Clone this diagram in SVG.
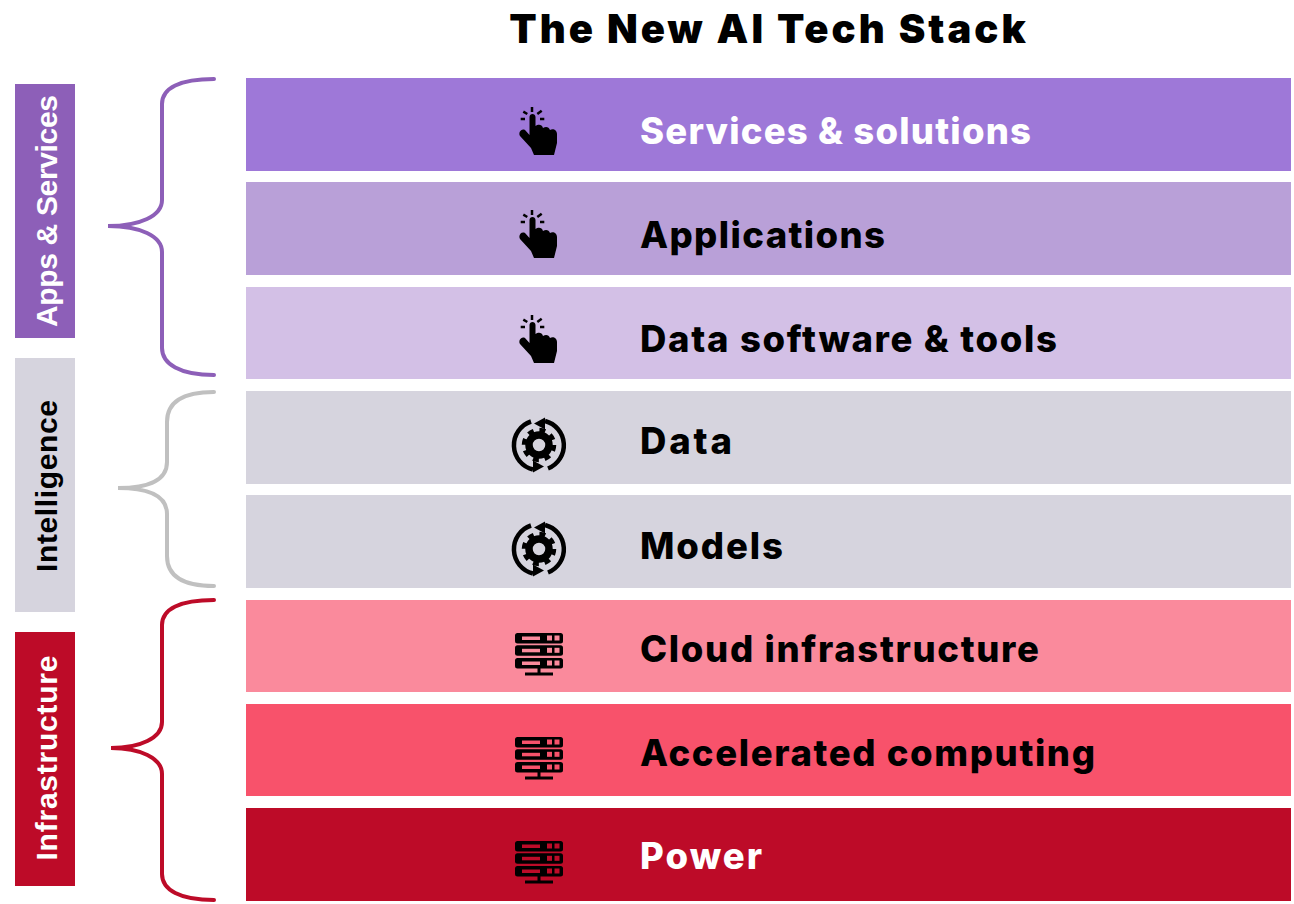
<svg xmlns="http://www.w3.org/2000/svg" width="1294" height="904" viewBox="0 0 1294 904">
<style>
text{font-family:"Inter","Liberation Sans",sans-serif;font-weight:700}
.t{font-size:36.500px;fill:#000;font-weight:800}
.w{fill:#fff}
.s{font-size:30px;font-family:"Liberation Sans",sans-serif;text-anchor:middle}
.b{fill:none;stroke-width:4;stroke-linecap:round}
.k{fill:#000}
.kl{fill:none;stroke:#000}
</style>
<defs>
<g id="hand">
<path d="M0-24v5M-8.700-19.300L-4.700-17M9.700-20.300L5.300-17M-11.300-12H-7M8-12h4.300" class="kl" stroke-width="2.500"/>
<path d="M-2.500-14C-2.500-18 3.500-18 3.500-14L3.500-5C6-7 10-7 11-3C14-5 17-4 18-1C21-3 25-1 25 3L25 12L22 24L2 24L-1 17L-12 5C-14 2-11-3-7-1L-2.500 4z" class="k"/>
</g>
<g id="gear">
<path d="M-8-23.500A25 25 0 0 0-6 24.500M6-24A25 25 0 0 1 9 23.500" class="kl" stroke-width="4.500"/>
<path d="M-5-21.500L6-27.500V-15.500zM5 21.500L-6 15.500V27.500z" class="k"/>
<circle r="10" class="kl" stroke-width="7.500"/>
<circle r="15" class="kl" stroke-width="4.500" stroke-dasharray="5.890 5.890"/>
</g>
<g id="server">
<g id="u">
<rect x="-24" y="-17" width="48" height="10.500" rx="2.500" class="k"/>
<rect x="-17" y="-13.500" width="18" height="3.500" fill="var(--c)"/>
<rect x="8" y="-14.500" width="5" height="5" fill="var(--c)"/>
<rect x="15.500" y="-14.500" width="5" height="5" fill="var(--c)"/>
</g>
<use href="#u" y="12.300"/>
<use href="#u" y="25"/>
<path d="M0 18v6M-14 24h28" class="kl" stroke-width="3"/>
</g>
</defs>
<text x="769" y="43" text-anchor="middle" fill="#000" style="font-weight:900;font-size:40px;letter-spacing:3px">The New AI Tech Stack</text>
<g id="connectors">
<path class="b" stroke="#8d5fb8" d="M214 79C180 79 162 88 162 104V200C162 216 140 226 108 226C140 226 162 236 162 252V348C162 364 180 375 214 375"/>
<path class="b" stroke="#c0c0c0" d="M214 392C182 392 167 402 167 422V462C167 480 150 488 118 488C150 488 167 496 167 514V556C167 576 182 586 214 586"/>
<path class="b" stroke="#bd0b28" d="M214 600C180 600 162 609 162 625V722C162 738 140 748 111 748C140 748 162 758 162 774V874C162 890 180 900 214 900"/>
</g>
<g id="label-apps"><rect x="15" y="84" width="60" height="254" fill="#8d5fb8"/><text class="s w" transform="translate(57,211) rotate(-90)" textLength="232">Apps &amp; Services</text></g>
<g id="label-intelligence"><rect x="15" y="358" width="60" height="254" fill="#d6d4de"/><text class="s" transform="translate(57,486) rotate(-90)" textLength="172">Intelligence</text></g>
<g id="label-infrastructure"><rect x="15" y="632" width="60" height="254" fill="#bd0b28"/><text class="s w" transform="translate(57,758) rotate(-90)" textLength="205">Infrastructure</text></g>
<g id="services"><rect x="246" y="78" width="1045" height="93" fill="#9e78d8"/><use href="#hand" x="532" y="131"/><text class="t w" x="640" y="144" textLength="391">Services &amp; solutions</text></g>
<g id="applications"><rect x="246" y="182" width="1045" height="93" fill="#b9a0d8"/><use href="#hand" x="532" y="234"/><text class="t" x="640" y="248" textLength="245">Applications</text></g>
<g id="tools"><rect x="246" y="287" width="1045" height="92" fill="#d3c0e6"/><use href="#hand" x="532" y="339"/><text class="t" x="640" y="352" textLength="417">Data software &amp; tools</text></g>
<g id="data"><rect x="246" y="391" width="1045" height="93" fill="#d6d4de"/><use href="#gear" x="539" y="445"/><text class="t" x="640" y="454" textLength="92">Data</text></g>
<g id="models"><rect x="246" y="495" width="1045" height="93" fill="#d6d4de"/><use href="#gear" x="539" y="549"/><text class="t" x="640" y="559" textLength="143">Models</text></g>
<g id="cloud" style="--c:#fa8a9c"><rect x="246" y="600" width="1045" height="92" fill="#fa8a9c"/><use href="#server" x="539" y="650"/><text class="t" x="640" y="662" textLength="399">Cloud infrastructure</text></g>
<g id="accelerated" style="--c:#f8526b"><rect x="246" y="704" width="1045" height="92" fill="#f8526b"/><use href="#server" x="539" y="754"/><text class="t" x="640" y="766" textLength="455">Accelerated computing</text></g>
<g id="power" style="--c:#bd0b28"><rect x="246" y="808" width="1045" height="93" fill="#bd0b28"/><use href="#server" x="539" y="858"/><text class="t w" x="640" y="869" textLength="122">Power</text></g>
</svg>
